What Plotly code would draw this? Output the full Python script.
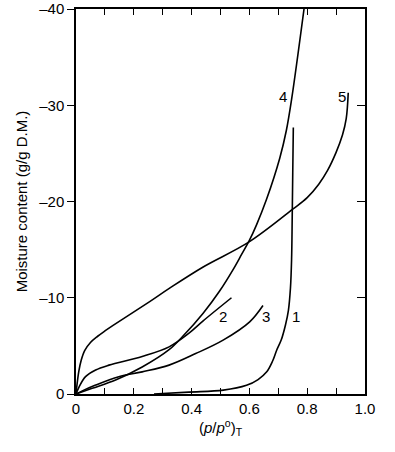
import plotly.graph_objects as go

# Curve data (relative pressure, moisture content)
c1_x = [0.27, 0.39, 0.51, 0.59, 0.63, 0.66, 0.68, 0.695, 0.71, 0.725, 0.735, 0.742, 0.746, 0.748, 0.750, 0.752]
c1_y = [0, -0.2, -0.4, -0.9, -1.5, -2.3, -3.4, -4.6, -5.6, -7.2, -8.7, -11, -14, -18, -23, -27.7]

c2_x = [0, 0.01, 0.033, 0.068, 0.114, 0.229, 0.322, 0.39, 0.44, 0.538]
c2_y = [0, -0.7, -1.8, -2.5, -3.0, -3.9, -4.9, -6.3, -7.6, -10.0]

c3_x = [0, 0.02, 0.068, 0.148, 0.229, 0.322, 0.414, 0.509, 0.601, 0.647]
c3_y = [0, -0.3, -0.93, -1.8, -2.3, -3.0, -4.2, -5.6, -7.5, -9.2]

c4_x = [0, 0.056, 0.137, 0.229, 0.322, 0.368, 0.44, 0.497, 0.543, 0.573, 0.599, 0.625, 0.659, 0.705, 0.728, 0.746, 0.789]
c4_y = [0, -0.59, -1.45, -2.8, -4.6, -5.95, -8.4, -10.7, -12.9, -14.5, -15.9, -17.6, -20.2, -24.5, -27.4, -30.6, -40]

c5_x = [0, 0.004, 0.01, 0.018, 0.03, 0.05, 0.075, 0.1, 0.127, 0.255, 0.324, 0.44, 0.599, 0.75, 0.80, 0.84, 0.87, 0.90, 0.922, 0.935, 0.942]
c5_y = [0, -1.1, -2.4, -3.5, -4.5, -5.35, -6.0, -6.55, -7.1, -9.6, -11.0, -13.2, -15.8, -19.2, -20.4, -21.8, -23.2, -25.1, -26.9, -28.6, -31.3]

labels = ["1", "2", "3", "4", "5"]
label_x = [0.762, 0.508, 0.657, 0.716, 0.92]
label_y = [-8.1, -8.1, -8.1, -30.9, -30.9]

x_tickvals = [0, 0.2, 0.4, 0.6, 0.8, 1.0]
x_ticktext = ["0", "0.2", "0.4", "0.6", "0.8", "1.0"]
x_minorvals = [0.1, 0.3, 0.5, 0.7, 0.9]
y_tickvals = [0, -10, -20, -30, -40]
y_ticktext = ["0", "–10", "–20", "–30", "–40"]

fig = go.Figure()
for xs, ys in [(c1_x, c1_y), (c2_x, c2_y), (c3_x, c3_y), (c4_x, c4_y), (c5_x, c5_y)]:
    fig.add_trace(go.Scatter(x=xs, y=ys, mode="lines",
                             line=dict(color="black", width=1.6, shape="spline", smoothing=1.0),
                             showlegend=False, hoverinfo="skip"))

# invisible trace for right axis
fig.add_trace(go.Scatter(x=[0], y=[0], yaxis="y2", mode="markers",
                         marker=dict(opacity=0), showlegend=False, hoverinfo="skip"))

for t, lx, ly in zip(labels, label_x, label_y):
    fig.add_annotation(x=lx, y=ly, text=t, showarrow=False,
                       font=dict(family="Liberation Sans, Arial", size=15, color="black"))

font = dict(family="Liberation Sans, Arial", size=15, color="black")
tfont = dict(family="Liberation Sans, Arial", size=15, color="black")
fig.update_layout(
    width=395, height=452,
    margin=dict(l=76, r=30, t=9, b=58),
    paper_bgcolor="white", plot_bgcolor="white",
    font=font,
    xaxis=dict(range=[0, 1.0], tickmode="array", tickvals=x_tickvals, ticktext=x_ticktext,
               ticks="inside", ticklen=6, tickwidth=1.2, tickcolor="black",
               minor=dict(tickmode="array", tickvals=x_minorvals, ticks="inside",
                          ticklen=6, tickwidth=1.2, tickcolor="black", showgrid=False),
               showline=True, linecolor="black", linewidth=1.5, mirror="ticks",
               showgrid=False, zeroline=False, tickfont=font, automargin=False,
               title=dict(text="(<i>p</i>/<i>p</i><sup>o</sup>)<sub>T</sub>", font=font, standoff=6)),
    yaxis=dict(range=[0, -40], tickvals=y_tickvals, ticktext=y_ticktext,
               ticks="outside", ticklen=7, tickwidth=1.2, tickcolor="black",
               showline=True, linecolor="black", linewidth=1.5,
               showgrid=False, zeroline=False, tickfont=font, automargin=False,
               title=dict(text="Moisture content (g/g D.M.)", font=tfont, standoff=8)),
    yaxis2=dict(range=[0, -40], tickvals=y_tickvals, showticklabels=False,
                overlaying="y", side="right", anchor="x", automargin=False,
                ticks="inside", ticklen=8, tickwidth=1.2, tickcolor="black",
                showline=True, linecolor="black", linewidth=1.5,
                showgrid=False, zeroline=False),
)

fig.write_html("out.html", config={"displayModeBar": False},
               post_script="document.body.style.margin='0';document.body.style.padding='0';")
